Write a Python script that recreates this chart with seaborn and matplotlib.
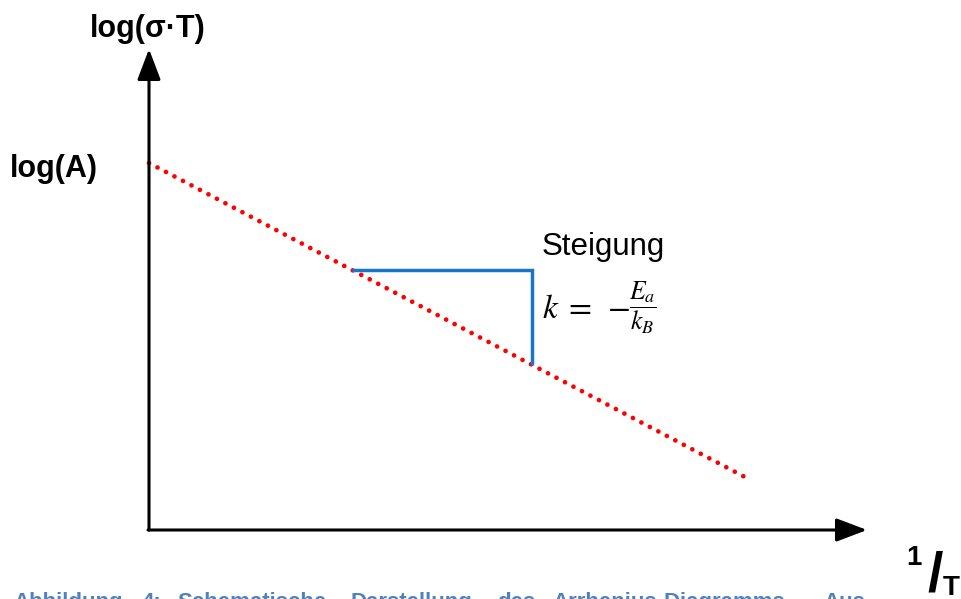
import matplotlib
matplotlib.use("Agg")
import matplotlib.pyplot as plt
import numpy as np
import pandas as pd
import seaborn as sns

sns.set_theme(style="white")
plt.rcParams["font.family"] = ["Liberation Sans", "DejaVu Sans"]
plt.rcParams["mathtext.fontset"] = "stix"

# Arrhenius line: log(sigma*T) = log(A) + slope * (1/T)   (arbitrary units)
inv_T = [0.0, 5.96]
log_A = 3.67
slope = -0.527
log_sigmaT = [log_A + slope * x for x in inv_T]

# slope triangle between two 1/T values
tri_x = [2.03, 3.83]
tri_y = [log_A + slope * x for x in tri_x]

# axis extents (arrow tips)
x_axis_end = 7.18
y_axis_end = 4.78

caption_words = ["Abbildung", "4:", "Schematische", "Darstellung", "des",
                 "Arrhenius-Diagramms.", "Aus"]
caption_x = [-1.36, -0.07, 0.28, 2.01, 3.48, 4.03, 6.74]

W, H, DPI = 961, 599, 100
fig = plt.figure(figsize=(W / DPI, H / DPI), dpi=DPI)
ax = fig.add_axes([0, 0, 1, 1])
ax.set_xlim(-1.49, 8.12)
ax.set_ylim(-0.69, 5.30)
ax.axis("off")

# coordinate axes with arrow heads
arrow_kw = dict(arrowstyle="-|>,head_length=1.45,head_width=0.55",
                mutation_scale=13, color="black", lw=2.2,
                shrinkA=0, shrinkB=0)
ax.annotate("", xy=(0, y_axis_end + 0.03), xytext=(0, 0), arrowprops=arrow_kw)
ax.annotate("", xy=(x_axis_end, 0), xytext=(-0.01, 0), arrowprops=arrow_kw)

# dotted red Arrhenius line
line_df = pd.DataFrame({"x": inv_T, "y": log_sigmaT})
sns.lineplot(data=line_df, x="x", y="y", ax=ax, color="#ff0000", lw=3.4,
             linestyle=(0, (0.01, 2.022)), dash_capstyle="round",
             sort=False, estimator=None, legend=False)

# slope triangle (horizontal run, vertical drop)
tri_df = pd.DataFrame({"x": [tri_x[0], tri_x[1], tri_x[1]],
                       "y": [tri_y[0], tri_y[0], tri_y[1]]})
sns.lineplot(data=tri_df, x="x", y="y", ax=ax, color="#1a76c6", lw=2.5,
             sort=False, estimator=None, legend=False,
             solid_joinstyle="miter", solid_capstyle="butt")

# labels
ax.text(-0.01, 4.93, "log(σ·T)", ha="center", va="baseline",
        fontsize=22, fontweight="bold", color="black")
ax.text(-1.39, log_A - 0.14, "log(A)", ha="left", va="baseline",
        fontsize=22, fontweight="bold", color="black")
ax.text(3.93, 2.75, "Steigung", ha="left", va="baseline",
        fontsize=22.5, color="black")
ax.text(3.93, 2.12, r"$k\;=\;-$", ha="left", va="baseline",
        fontsize=24, color="black")
ax.text(4.80, 2.22, r"$\dfrac{E_a}{k_B}$", ha="left", va="center",
        fontsize=18.5, color="black")

# 1/T axis label
ax.text(7.65, -0.35, "1", ha="center", va="baseline",
        fontsize=20, fontweight="bold", color="black")
ax.text(7.86, -0.60, "/", ha="center", va="baseline",
        fontsize=40, fontweight="bold", color="black")
ax.text(7.94, -0.65, "T", ha="left", va="baseline",
        fontsize=20, fontweight="bold", color="black")

# figure caption (justified)
for word, x in zip(caption_words, caption_x):
    ax.text(x, -0.78, word, ha="left", va="baseline", fontsize=16,
            fontweight="bold", color="#4f81bd", clip_on=False)

fig.savefig("out.png", dpi=DPI, facecolor="white")
